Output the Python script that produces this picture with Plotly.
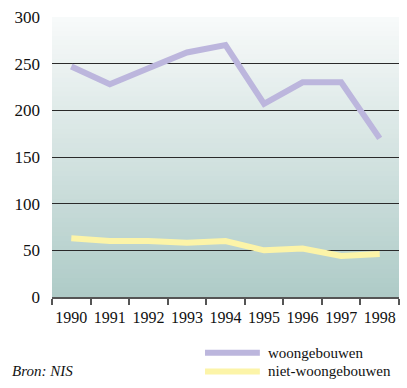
import plotly.graph_objects as go

# Bouwvergunningen per jaar
jaren = ["1990", "1991", "1992", "1993", "1994", "1995", "1996", "1997", "1998"]
woongebouwen = [247, 228, 245, 262, 270, 207, 230, 230, 170]
niet_woongebouwen = [63, 60, 60, 58, 60, 50, 52, 44, 46]
reeksen = ["woongebouwen", "niet-woongebouwen"]
kleuren = ["#bcb6dd", "#fcf4a8"]
y_ticks = [0, 50, 100, 150, 200, 250, 300]
bron = "Bron: NIS"

SERIF = "Times New Roman, Liberation Serif, DejaVu Serif"

fig = go.Figure()
for naam, waarden, kleur in zip(reeksen, [woongebouwen, niet_woongebouwen], kleuren):
    fig.add_trace(go.Scatter(
        x=jaren, y=waarden, mode="lines", name=naam,
        line=dict(color=kleur, width=6), showlegend=False, hoverinfo="x+y",
    ))

# vertical gradient background of the plot area
def mix(a, b, t):
    return "rgb(%d,%d,%d)" % tuple(round(a[i] + (b[i] - a[i]) * t) for i in range(3))

top_c = (248, 250, 250)
bot_c = (174, 203, 199)
n = 60
shapes = []
for i in range(n):
    shapes.append(dict(
        type="rect", xref="paper", yref="paper",
        x0=0, x1=1, y0=max(0, 1 - (i + 1) / n - 0.01), y1=1 - i / n,
        fillcolor=mix(top_c, bot_c, (i + 0.5) / n),
        line=dict(width=0), layer="below",
    ))

# hand-drawn legend below the chart
legend_y = [-0.199, -0.266]
for naam, kleur, ly in zip(reeksen, kleuren, legend_y):
    shapes.append(dict(
        type="line", xref="paper", yref="paper",
        x0=0.441, x1=0.599, y0=ly, y1=ly,
        line=dict(color=kleur, width=6),
    ))

annotations = []
for naam, ly in zip(reeksen, legend_y):
    annotations.append(dict(
        text=naam, xref="paper", yref="paper", x=0.618, y=ly,
        xanchor="left", yanchor="middle", showarrow=False,
        font=dict(family=SERIF, size=15, color="#111"),
    ))
annotations.append(dict(
    text="<i>" + bron + "</i>", xref="paper", yref="paper", x=-0.121, y=legend_y[1],
    xanchor="left", yanchor="middle", showarrow=False,
    font=dict(family=SERIF, size=15, color="#111"),
))

fig.update_layout(
    width=407, height=388,
    margin=dict(l=52, r=8, t=15, b=91),
    paper_bgcolor="white", plot_bgcolor="white",
    shapes=shapes, annotations=annotations,
    xaxis=dict(
        type="category", range=[-0.5, 8.5], tickson="boundaries",
        showgrid=False, showline=True, linecolor="#555", linewidth=1.5,
        ticks="outside", ticklen=6, tickcolor="#555", tickwidth=1.5,
        tickangle=0, ticklabelstandoff=5,
        tickfont=dict(family=SERIF, size=16, color="#111"),
        fixedrange=True,
    ),
    yaxis=dict(
        range=[0, 300], tickvals=y_ticks, showgrid=True,
        gridcolor="#2a2a2a", gridwidth=1.2, zeroline=False, showline=False,
        ticks="", ticklabelstandoff=11,
        tickfont=dict(family=SERIF, size=17, color="#111"),
        fixedrange=True,
    ),
)

fig.write_html("out.html")
